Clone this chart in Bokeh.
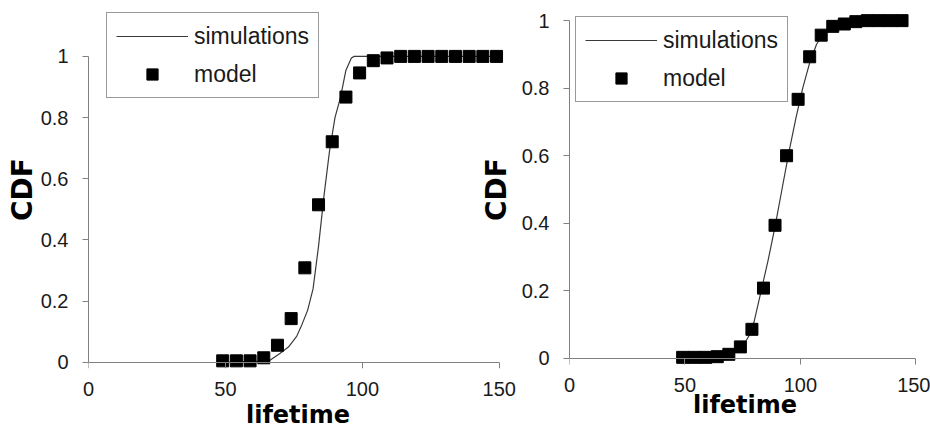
from bokeh.plotting import figure
from bokeh.models import (Range1d, FixedTicker, CustomJSTickFormatter, Legend, LegendItem,
                          LinearAxis)
from bokeh.layouts import row
from bokeh.embed import file_html
from bokeh.resources import INLINE

# ---------------- data ----------------
X_TICKS = [0, 50, 100, 150]
Y_TICKS = [0, 0.2, 0.4, 0.6, 0.8, 1]

left_sim_x = [50, 66, 70, 73, 76, 78, 80, 82, 84, 86, 88, 90, 92, 94, 96, 97, 100, 150]
left_sim_y = [0, 0.005, 0.03, 0.05, 0.085, 0.125, 0.17, 0.24, 0.38, 0.545, 0.69, 0.8, 0.865,
              0.955, 0.995, 1.0, 1.0, 1.0]
left_model_x = [49, 54, 59, 64, 69, 74, 79, 84, 89, 94, 99, 104, 109, 114, 119, 124, 129,
                134, 139, 144, 149]
left_model_y = [0.005, 0.005, 0.005, 0.015, 0.056, 0.143, 0.309, 0.515, 0.721, 0.867, 0.946,
                0.986, 0.995, 1.0, 1.0, 1.0, 1.0, 1.0, 1.0, 1.0, 1.0]

right_sim_x = [50, 60, 65, 70, 75, 78, 80, 83, 86, 89, 92, 95, 98, 101, 104, 107, 110, 113,
               116, 120, 125, 130, 145]
right_sim_y = [0, 0.002, 0.006, 0.013, 0.035, 0.07, 0.11, 0.2, 0.29, 0.39, 0.5, 0.61, 0.71,
               0.8, 0.875, 0.93, 0.962, 0.98, 0.99, 0.995, 1.0, 1.0, 1.0]
right_model_x = [49, 54, 59, 64, 69, 74, 79, 84, 89, 94, 99, 104, 109, 114, 119, 124, 129,
                 134, 139, 144]
right_model_y = [0.003, 0.003, 0.003, 0.005, 0.012, 0.034, 0.086, 0.208, 0.394, 0.60, 0.767,
                 0.893, 0.957, 0.983, 0.99, 0.997, 1.0, 1.0, 1.0, 1.0]

AXIS_COLOR = "#808080"
TEXT_COLOR = "#1a1a1a"


def build(width, mb_left, mb_right, mb_top, mb_bottom, xend, ystart, yend, sim_x, sim_y,
          mod_x, mod_y, legend_loc, xtick_standoff, xlab_standoff, ylab_standoff,
          transparent, margin):
    p = figure(width=width, height=438, x_range=Range1d(0, xend),
               y_range=Range1d(ystart, yend),
               output_backend="svg", toolbar_location=None,
               min_border_left=mb_left, min_border_right=mb_right,
               min_border_top=mb_top, min_border_bottom=mb_bottom, margin=margin)
    p.grid.visible = False
    p.outline_line_color = None
    if transparent:
        p.background_fill_color = None
        p.border_fill_color = None

    sim = p.line(sim_x, sim_y, line_color="#3a3a3a", line_width=1.2)
    mod = p.scatter(mod_x, mod_y, marker="square", size=12, fill_color="black",
                    line_color="black")

    # x tick labels + axis title (bottom axis, no rule)
    xa = p.below[0]
    xa.ticker = FixedTicker(ticks=X_TICKS)
    xa.axis_line_color = None
    xa.major_tick_line_color = None
    xa.minor_tick_line_color = None
    xa.major_tick_out = 0
    xa.major_tick_in = 0
    xa.minor_tick_out = 0
    xa.minor_tick_in = 0
    xa.major_label_text_font = "Liberation Sans"
    xa.major_label_text_font_size = "20px"
    xa.major_label_text_color = TEXT_COLOR
    xa.major_label_standoff = xtick_standoff
    xa.axis_label = "lifetime"
    xa.axis_label_text_font = "DejaVu Sans"
    xa.axis_label_text_font_style = "bold"
    xa.axis_label_text_font_size = "24px"
    xa.axis_label_text_color = "black"
    xa.axis_label_standoff = xlab_standoff

    # x axis line + ticks, pinned at y = 0 (ticks pointing down)
    rule = LinearAxis(fixed_location=0, ticker=FixedTicker(ticks=X_TICKS), bounds=(0, 150),
                      axis_line_color=AXIS_COLOR, major_tick_line_color=AXIS_COLOR,
                      major_tick_in=6, major_tick_out=0, minor_tick_in=0, minor_tick_out=0,
                      minor_tick_line_color=None,
                      formatter=CustomJSTickFormatter(code="return ''"),
                      major_label_text_font_size="1px", major_label_text_alpha=0,
                      major_label_standoff=0)
    p.add_layout(rule, "above")

    ya = p.left[0]
    ya.ticker = FixedTicker(ticks=Y_TICKS)
    ya.bounds = (0, 1)
    ya.formatter = CustomJSTickFormatter(code="return (Math.round(tick * 10) / 10).toString()")
    ya.axis_line_color = AXIS_COLOR
    ya.major_tick_line_color = AXIS_COLOR
    ya.minor_tick_line_color = None
    ya.major_tick_out = 6
    ya.major_tick_in = 0
    ya.minor_tick_out = 0
    ya.minor_tick_in = 0
    ya.major_label_text_font = "Liberation Sans"
    ya.major_label_text_font_size = "20px"
    ya.major_label_text_color = TEXT_COLOR
    ya.major_label_standoff = 14
    ya.axis_label = "CDF"
    ya.axis_label_text_font = "DejaVu Sans"
    ya.axis_label_text_font_style = "bold"
    ya.axis_label_text_font_size = "28px"
    ya.axis_label_text_color = "black"
    ya.axis_label_standoff = ylab_standoff

    legend = Legend(items=[LegendItem(label="simulations", renderers=[sim]),
                           LegendItem(label="model", renderers=[mod])],
                    location=legend_loc, orientation="vertical",
                    glyph_width=72, glyph_height=28, label_height=28,
                    label_standoff=6, spacing=10, padding=9, margin=0,
                    label_text_font="Liberation Sans", label_text_font_size="23px",
                    label_text_color=TEXT_COLOR,
                    border_line_color="#333333", border_line_width=1,
                    background_fill_color="white", background_fill_alpha=1.0)
    p.add_layout(legend)
    return p


left = build(516, 88, 9, 9, 70, 153, -0.02, 1.15, left_sim_x, left_sim_y,
             left_model_x, left_model_y, (18, 270), 13, 2, -1, False, (0, 0, 0, 0))
right = build(454, 92, 10, 10, 68, 152, -0.03, 1.03, right_sim_x, right_sim_y,
              right_model_x, right_model_y, (6, 266), 9, -4, 6, True, (0, 0, 0, -40))

layout = row(left, right, spacing=0)

open("out.html", "w").write(file_html(layout, INLINE))
